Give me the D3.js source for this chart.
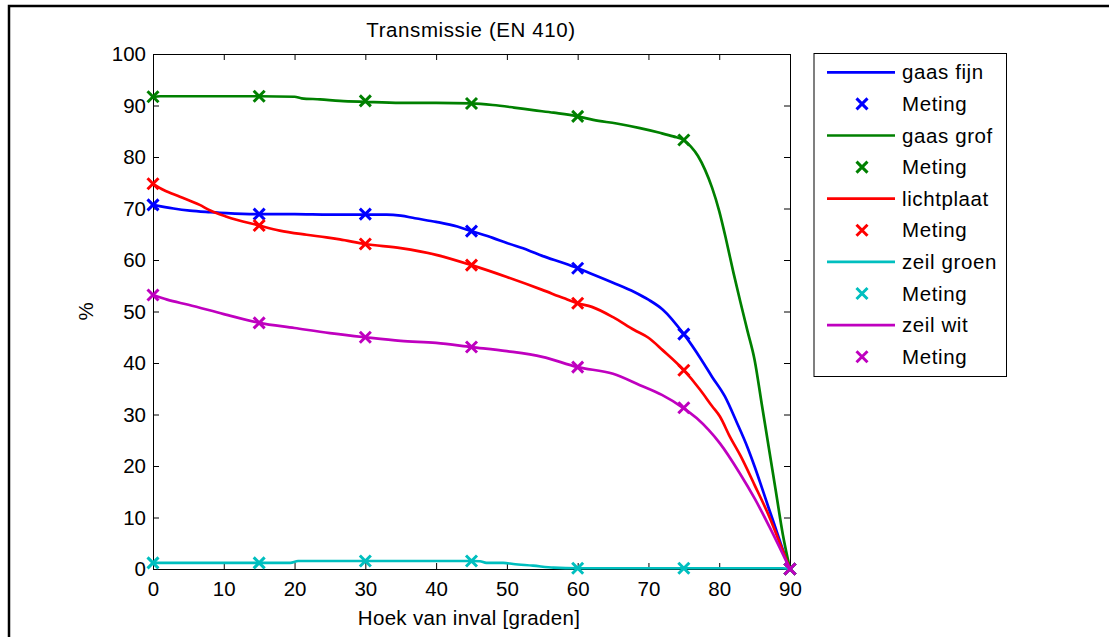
<!DOCTYPE html>
<html>
<head>
<meta charset="utf-8">
<script src="https://cdn.jsdelivr.net/npm/d3@7"></script>
<style>
  body { margin: 0; background: #fff; }
  svg { display: block; font-family: Arial, "Liberation Sans", sans-serif; }
  .axis path, .axis line { stroke: #000; }
  .axis text { font-size: 20.5px; fill: #000; }
</style>
</head>
<body>
<svg id="chart" width="1109" height="637"></svg>
<script>
// measurement angles (degrees)
const metingAngles = [0, 15, 30, 45, 60, 75, 90];

// measured values per material (%)
const gaasFijnMeting = [70.7, 68.9, 68.9, 65.6, 58.4, 45.6, 0];
const gaasGrofMeting = [91.7, 91.8, 90.9, 90.4, 87.9, 83.3, 0];
const lichtplaatMeting = [74.8, 66.7, 63.1, 59.0, 51.6, 38.6, 0];
const zeilGroenMeting = [1.2, 1.2, 1.55, 1.55, 0.15, 0.15, 0];
const zeilWitMeting = [53.2, 47.8, 45.0, 43.1, 39.2, 31.3, 0];

// fitted curves: [angle, %]
const gaasFijnCurve = [[0,70.7],[2.9,70.0],[5.2,69.6],[8.1,69.3],[10.4,69.1],[15,68.9],[20,68.9],[25,68.8],[30,68.8],[33,68.8],[35,68.6],[37,68.1],[40,67.4],[43,66.5],[45,65.6],[48,64.3],[50,63.3],[53,61.9],[55,60.8],[58,59.4],[60,58.4],[62,57.3],[65,55.6],[68,53.8],[70,52.3],[72,50.4],[75,45.6],[77.5,40.6],[79,37.3],[80.8,33.5],[82.5,28.4],[84,23.6],[85,19.9],[86,15.9],[87,11.8],[88,7.8],[89,3.7],[90,0]];
const gaasGrofCurve = [[0,91.6],[1,91.8],[5,91.8],[10,91.8],[15,91.8],[20,91.7],[21,91.4],[23.6,91.2],[26.4,90.9],[30,90.7],[35,90.5],[40,90.5],[45,90.4],[48,90.1],[51,89.6],[53.7,89.1],[56.6,88.6],[60,87.9],[62.2,87.2],[65.5,86.5],[68.8,85.6],[71.6,84.7],[73.5,84.0],[75,83.3],[76,82.0],[77,80.2],[78,77.5],[79,74.0],[80,69.5],[81,63.8],[82,57.6],[83,51.8],[84,46.2],[85,40.6],[86,32.1],[87,23.6],[88,15.1],[89,6.6],[90,0]];
const lichtplaatCurve = [[0,74.8],[1.5,73.6],[3.8,72.3],[6.6,70.7],[8.1,69.6],[10.4,68.4],[15,66.7],[17.9,65.7],[21.7,64.9],[24.5,64.4],[26.4,64.0],[30,63.1],[35,62.3],[40,61.0],[45,59.0],[50,56.7],[55,54.2],[58,52.6],[60,51.6],[62,50.9],[65,48.9],[68,46.4],[70,44.9],[72,42.5],[75,38.6],[77.3,34.8],[79,31.6],[80.1,29.6],[81.5,25.7],[83,22.0],[85,16.3],[87,10.4],[89.5,1.7],[90,0]];
const zeilGroenCurve = [[0,1.2],[15,1.2],[19.4,1.2],[20.5,1.55],[30,1.55],[45,1.55],[46.2,1.5],[47.1,1.2],[49.5,1.2],[50.9,0.97],[53.7,0.65],[56.6,0.25],[60,0.15],[75,0.15],[89,0.15],[90,0]];
const zeilWitCurve = [[0,53.2],[2,52.3],[5,51.3],[10,49.5],[15,47.8],[20,46.8],[25,45.8],[30,45.0],[35,44.3],[40,43.9],[45,43.1],[50,42.3],[55,41.2],[60,39.2],[65,37.9],[68.8,35.7],[71.9,33.8],[74.9,31.3],[76.8,29.3],[78.5,27.0],[80.1,24.4],[82.9,18.6],[85,13.7],[87.1,8.2],[90,0]];

const xTicks = [0, 10, 20, 30, 40, 50, 60, 70, 80, 90];
const yTicks = [0, 10, 20, 30, 40, 50, 60, 70, 80, 90, 100];

const seriesNames = ["gaas fijn", "gaas grof", "lichtplaat", "zeil groen", "zeil wit"];
const seriesColors = ["#0000ff", "#008000", "#ff0000", "#00bfbf", "#bf00bf"];
const seriesCurves = [gaasFijnCurve, gaasGrofCurve, lichtplaatCurve, zeilGroenCurve, zeilWitCurve];
const seriesMeting = [gaasFijnMeting, gaasGrofMeting, lichtplaatMeting, zeilGroenMeting, zeilWitMeting];

const svg = d3.select("#chart");

// outer figure frame
svg.append("rect")
    .attr("x", 9).attr("y", 6)
    .attr("width", 1120).attr("height", 660)
    .attr("fill", "none").attr("stroke", "#000").attr("stroke-width", 2.5);

let margin = {left: 153, top: 54, right: 790, bottom: 569};

let x = d3.scaleLinear().domain([0, 90]).range([margin.left, margin.right]);
let y = d3.scaleLinear().domain([0, 100]).range([margin.bottom, margin.top]);

// axes (MATLAB style: ticks inside, box on)
svg.append("g").attr("class", "axis")
    .attr("transform", "translate(0," + margin.bottom + ")")
    .call(d3.axisBottom(x).tickValues(xTicks).tickSizeInner(-6).tickSizeOuter(0).tickPadding(12));
svg.append("g").attr("class", "axis")
    .attr("transform", "translate(0," + margin.top + ")")
    .call(d3.axisTop(x).tickValues(xTicks).tickSizeInner(-6).tickSizeOuter(0).tickFormat(""));
svg.append("g").attr("class", "axis")
    .attr("transform", "translate(" + margin.left + ",0)")
    .call(d3.axisLeft(y).tickValues(yTicks).tickSizeInner(-6).tickSizeOuter(0).tickPadding(7));
svg.append("g").attr("class", "axis")
    .attr("transform", "translate(" + margin.right + ",0)")
    .call(d3.axisRight(y).tickValues(yTicks).tickSizeInner(-6).tickSizeOuter(0).tickFormat(""));

let line = d3.line()
    .x(d => x(d[0]))
    .y(d => y(d[1]))
    .curve(d3.curveMonotoneX);

function cross(g, cx, cy, color) {
    let s = 5.5;
    g.append("path")
        .attr("d", "M" + (cx - s) + "," + (cy - s) + "L" + (cx + s) + "," + (cy + s) +
                   "M" + (cx - s) + "," + (cy + s) + "L" + (cx + s) + "," + (cy - s))
        .attr("stroke", color).attr("stroke-width", 3).attr("fill", "none");
}

let plot = svg.append("g");

seriesCurves.forEach((curve, i) => {
    plot.append("path")
        .datum(curve)
        .attr("d", line)
        .attr("fill", "none")
        .attr("stroke", seriesColors[i])
        .attr("stroke-width", 2.7)
        .attr("stroke-linejoin", "round");
    let mg = plot.append("g");
    metingAngles.forEach((a, j) => cross(mg, x(a), y(seriesMeting[i][j]), seriesColors[i]));
});

// title and axis labels
svg.append("text")
    .attr("x", 471).attr("y", 37)
    .attr("text-anchor", "middle")
    .style("font-size", "20.5px").style("letter-spacing", "0.6px")
    .text("Transmissie (EN 410)");

svg.append("text")
    .attr("x", 469).attr("y", 625)
    .attr("text-anchor", "middle")
    .style("font-size", "20.5px").style("letter-spacing", "0.3px")
    .text("Hoek van inval [graden]");

svg.append("text")
    .attr("transform", "translate(93," + ((margin.top + margin.bottom) / 2) + ") rotate(-90)")
    .attr("text-anchor", "middle")
    .style("font-size", "20.5px")
    .text("%");

// legend
let legend = svg.append("g");
legend.append("rect")
    .attr("x", 814).attr("y", 53.5)
    .attr("width", 192.5).attr("height", 323)
    .attr("fill", "#fff").attr("stroke", "#000").attr("stroke-width", 1);

let rowY = d3.scaleLinear().domain([0, 9]).range([72.3, 356.7]);
seriesNames.forEach((name, i) => {
    let y1 = rowY(i * 2), y2 = rowY(i * 2 + 1);
    legend.append("line")
        .attr("x1", 827).attr("x2", 895)
        .attr("y1", y1).attr("y2", y1)
        .attr("stroke", seriesColors[i]).attr("stroke-width", 2.7);
    legend.append("text")
        .attr("x", 902).attr("y", y1).attr("dy", "0.35em")
        .style("font-size", "20.5px").style("letter-spacing", "0.6px")
        .text(name);
    cross(legend, 862, y2, seriesColors[i]);
    legend.append("text")
        .attr("x", 902).attr("y", y2).attr("dy", "0.35em")
        .style("font-size", "20.5px").style("letter-spacing", "0.6px")
        .text("Meting");
});
</script>
</body>
</html>
